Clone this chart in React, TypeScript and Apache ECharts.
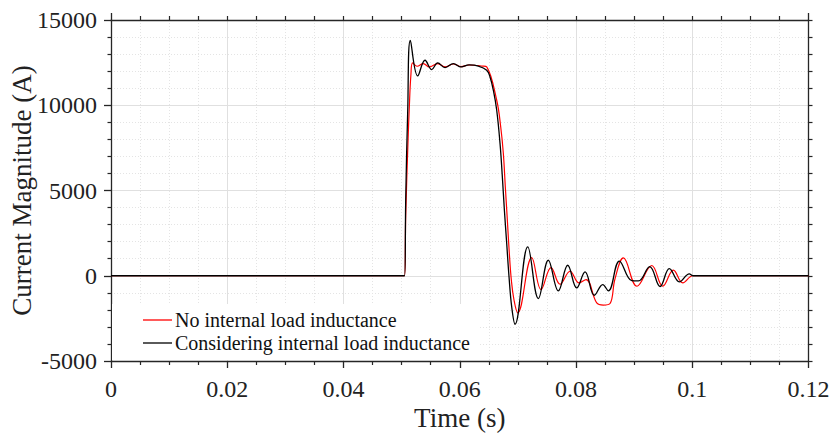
import React, { useEffect, useRef } from "react";
import * as echarts from "echarts";

const seriesNames = ["No internal load inductance", "Considering internal load inductance"];

// Considering internal load inductance (black)
const blackT = [
  0, 0.0505, 0.0507, 0.05105, 0.0515, 0.05277, 0.05403, 0.05518, 0.0562, 0.05747,
  0.0589, 0.06022, 0.0616, 0.0632, 0.06464, 0.06521, 0.06578, 0.06636, 0.06693, 0.06733,
  0.06768, 0.06808, 0.06848, 0.06894, 0.06951, 0.0717, 0.07353, 0.07524, 0.07696, 0.07858,
  0.08012, 0.08156, 0.08316, 0.0846, 0.08557, 0.08746, 0.08959, 0.09074, 0.09268, 0.09446,
  0.09606, 0.09778, 0.0995, 0.1001, 0.101, 0.12,
];
const blackV = [
  0, 0, 4400, 9700, 13800, 11720, 12640, 12090, 12480, 12210,
  12445, 12246, 12364, 12300, 12053, 11660, 10880, 9706, 7753, 5795,
  3842, 1889, -70, -1830, -2845, 1690, -1337, 909, -891, 616,
  -715, 223, -1144, -516, -891, 860, -290, -305, 540, -630,
  420, -360, 110, 0, 0, 0,
];

// No internal load inductance (red)
const redT = [
  0, 0.0505, 0.0507, 0.0511, 0.0513, 0.0516, 0.0519, 0.05265, 0.05373, 0.05477,
  0.05621, 0.0575, 0.0589, 0.0602, 0.0616, 0.0639, 0.06464, 0.06636, 0.06705, 0.0675,
  0.06784, 0.06819, 0.06853, 0.06888, 0.06934, 0.06997, 0.07238, 0.07399, 0.0757, 0.07726,
  0.07898, 0.08053, 0.08173, 0.08357, 0.0847, 0.08586, 0.08672, 0.08815, 0.0905, 0.09303,
  0.09493, 0.09675, 0.09837, 0.1001, 0.101, 0.12,
];
const redV = [
  0, 0, 3500, 7900, 9700, 11800, 12480, 12287, 12445, 12246,
  12445, 12250, 12420, 12260, 12360, 12300, 12246, 10293, 8727, 7167,
  5208, 3255, 1302, -264, -1437, -2180, 1067, -809, 481, -498,
  264, -422, -223, -1595, -1720, -1630, -164, 1044, -616, 600,
  -610, 330, -422, 0, 0, 0,
];

const font = "'Liberation Serif', 'Times New Roman', serif";
const axisColor = "#262626";
const textColor = "#222";

export default function App() {
  const ref = useRef<HTMLDivElement>(null);
  useEffect(() => {
    document.body.style.margin = "0";
    const chart = echarts.init(ref.current!, null, { renderer: "svg" });
    const fmtX = (v: number) => String(parseFloat(v.toFixed(4)));
    const fmtY = (v: number) => String(Math.round(v));
    chart.setOption({
      animation: false,
      grid: { left: 111, right: 23.5, top: 20, bottom: 73, containLabel: false, outerBoundsMode: "none" },
      legend: {
        orient: "vertical",
        left: 143,
        top: 309,
        padding: 0,
        itemWidth: 29,
        itemHeight: 1.3,
        itemGap: 1,
        icon: "rect",
        textStyle: { fontFamily: font, fontSize: 20, color: "#111", lineHeight: 22, padding: [0, 0, 0, -2] },
        data: seriesNames,
      },
      graphic: [
        {
          type: "rect",
          z: 1,
          shape: { x: 112, y: 304, width: 366, height: 56 },
          style: { fill: "#ffffff" },
          silent: true,
        },
      ],
      xAxis: [
        {
          type: "value",
          position: "bottom",
          min: 0,
          max: 0.12,
          interval: 0.02,
          axisLine: { show: true, onZero: false, lineStyle: { color: axisColor, width: 1.3 } },
          axisTick: { show: true, inside: false, length: 7, lineStyle: { color: axisColor, width: 1.3 } },
          minorTick: { show: true, splitNumber: 4, length: 4, lineStyle: { color: axisColor, width: 1.2 } },
          axisLabel: { fontFamily: font, fontSize: 24, color: textColor, margin: 16, formatter: fmtX },
          splitLine: { show: true, lineStyle: { color: "#e0e0e0", width: 1 } },
          minorSplitLine: { show: true, lineStyle: { color: "#e4e4e4", width: 1, type: [1, 2] } },
          name: "Time (s)",
          nameLocation: "middle",
          nameGap: 43,
          nameMoveOverlap: false,
          nameTextStyle: { fontFamily: font, fontSize: 27, color: textColor },
        },
        {
          type: "value",
          position: "top",
          min: 0,
          max: 0.12,
          interval: 0.12,
          axisLine: { show: true, onZero: false, lineStyle: { color: axisColor, width: 1.3 } },
          axisTick: { show: true, inside: false, length: 7, lineStyle: { color: axisColor, width: 1.3 } },
          minorTick: { show: true, splitNumber: 24, length: 4, lineStyle: { color: axisColor, width: 1.2 } },
          axisLabel: { show: false },
          splitLine: { show: false },
        },
      ],
      yAxis: [
        {
          type: "value",
          position: "left",
          min: -5000,
          max: 15000,
          interval: 5000,
          axisLine: { show: true, onZero: false, lineStyle: { color: axisColor, width: 1.3 } },
          axisTick: { show: true, inside: false, length: 7, lineStyle: { color: axisColor, width: 1.3 } },
          minorTick: { show: true, splitNumber: 5, length: 3.5, lineStyle: { color: axisColor, width: 1.2 } },
          axisLabel: { fontFamily: font, fontSize: 24, color: textColor, margin: 14, formatter: fmtY },
          splitLine: { show: true, lineStyle: { color: "#e0e0e0", width: 1 } },
          minorSplitLine: { show: true, lineStyle: { color: "#e4e4e4", width: 1, type: [1, 2] } },
          name: "Current Magnitude (A)",
          nameLocation: "middle",
          nameGap: 76,
          nameMoveOverlap: false,
          nameTextStyle: { fontFamily: font, fontSize: 27, color: textColor },
        },
        {
          type: "value",
          position: "right",
          min: -5000,
          max: 15000,
          interval: 1000,
          axisLine: { show: true, onZero: false, lineStyle: { color: axisColor, width: 1.3 } },
          axisTick: { show: true, inside: false, length: 4, lineStyle: { color: axisColor, width: 1.2 } },
          axisLabel: { show: false },
          splitLine: { show: false },
        },
      ],
      series: [
        {
          name: seriesNames[0],
          type: "line",
          xAxisIndex: 0,
          yAxisIndex: 0,
          data: redT.map((t, i) => [t, redV[i]]),
          showSymbol: false,
          symbol: "none",
          smooth: 0.4,
          itemStyle: { color: "#ff0000" },
          lineStyle: { color: "#ff0000", width: 1.2 },
        },
        {
          name: seriesNames[1],
          type: "line",
          xAxisIndex: 0,
          yAxisIndex: 0,
          data: blackT.map((t, i) => [t, blackV[i]]),
          showSymbol: false,
          symbol: "none",
          smooth: 0.4,
          itemStyle: { color: "#000000" },
          lineStyle: { color: "#000000", width: 1.3 },
        },
      ],
    });
    return () => chart.dispose();
  }, []);
  return <div ref={ref} style={{ width: 832, height: 434 }} />;
}
